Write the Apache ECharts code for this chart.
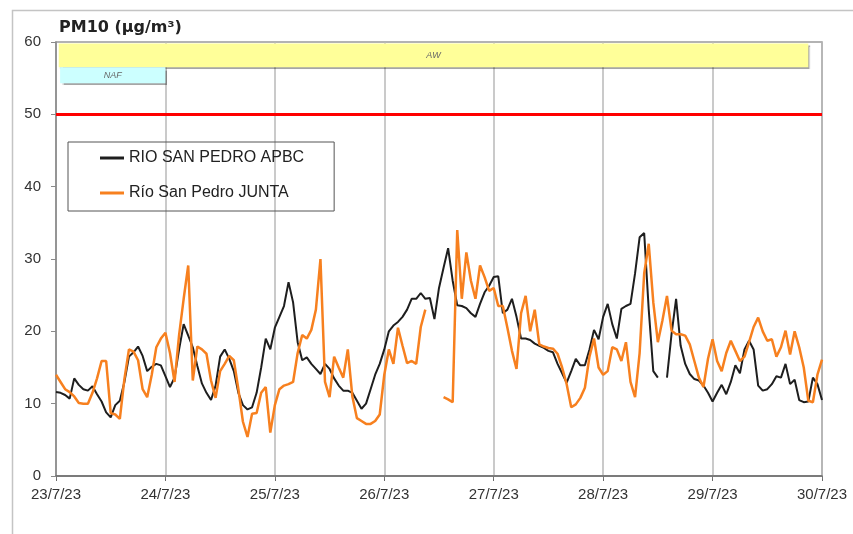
<!DOCTYPE html>
<html>
<head>
<meta charset="utf-8">
<script src="https://cdn.jsdelivr.net/npm/echarts@6/dist/echarts.min.js"></script>
<style>
html,body{margin:0;padding:0;background:#fff;}
#chart{width:853px;height:534px;}
</style>
</head>
<body>
<div id="chart"></div>
<script>
// hourly values, 23/7/23 00h .. 30/7/23 00h
const tickLabels = ['23/7/23','24/7/23','25/7/23','26/7/23','27/7/23','28/7/23','29/7/23','30/7/23'];
const seriesNames = ['RIO SAN PEDRO APBC', 'Río San Pedro JUNTA'];
const apbc = [
11.6,11.5,11.2,10.7,13.5,12.6,12.0,11.8,12.4,11.3,10.3,8.8,8.1,9.8,10.4,13.0,16.5,17.1,17.9,16.6,14.5,15.1,15.5,15.3,
13.8,12.3,13.6,17.5,21.0,19.4,17.8,15.2,12.8,11.5,10.5,12.5,16.5,17.5,16.2,14.5,11.5,9.8,9.2,9.5,11.5,15.0,19.0,17.5,
20.5,22.0,23.5,26.8,24.0,18.5,16.0,16.4,15.5,14.8,14.1,15.5,14.8,13.5,12.5,11.8,11.8,11.5,10.4,9.3,10.0,12.0,14.0,15.5,
17.5,20.0,20.8,21.3,22.0,23.0,24.5,24.5,25.3,24.5,24.6,21.7,26.0,28.8,31.5,27.0,23.6,23.5,23.2,22.5,22.0,23.8,25.4,26.3,
27.5,27.6,22.5,23.0,24.5,22.0,19.0,19.0,18.8,18.3,18.0,17.7,17.3,17.1,15.5,14.2,12.9,14.5,16.2,15.3,15.3,17.5,20.2,18.9,
22.0,23.8,21.0,19.0,23.1,23.5,23.8,28.0,33.0,33.6,23.0,14.5,13.6,null,13.6,19.6,24.5,18.0,15.5,14.1,13.4,13.2,12.5,11.5,
10.3,11.5,12.6,11.3,13.0,15.3,14.2,17.5,18.7,17.5,12.5,11.8,12.0,12.7,13.8,13.6,15.5,12.7,13.3,10.5,10.2,10.3,13.6,12.7,
10.5];
const junta = [
14.0,13.0,12.0,11.6,11.0,10.1,10.0,10.0,11.5,13.5,15.9,15.9,8.7,8.5,7.9,13.4,17.5,17.2,16.0,12.0,10.9,14.0,17.8,19.0,
19.8,17.0,13.0,19.5,24.5,29.1,13.2,17.9,17.5,16.9,13.2,10.8,14.5,15.5,16.6,16.0,12.0,7.5,5.4,8.6,8.7,11.5,12.3,6.0,
9.8,12.0,12.5,12.7,13.0,17.0,19.5,19.0,20.2,23.0,30.0,13.0,10.9,16.5,15.0,13.6,17.5,11.0,8.0,7.6,7.2,7.2,7.6,8.5,
14.0,17.5,15.5,20.5,18.0,15.6,15.9,15.5,20.6,23.0,null,null,null,10.9,10.6,10.2,34.0,24.5,30.9,27.0,24.5,29.1,27.5,25.6,
26.0,23.5,23.5,20.5,17.3,14.8,22.5,24.9,20.0,23.0,18.2,17.9,17.7,17.6,16.9,15.0,12.7,9.5,9.9,10.8,12.2,16.5,19.0,15.0,
14.0,14.5,17.8,17.5,15.9,18.5,13.0,10.9,17.0,28.0,32.1,24.0,18.5,21.5,24.9,20.1,19.6,19.6,19.4,18.2,15.9,13.6,12.3,16.2,
18.9,15.9,14.5,17.0,18.7,17.3,15.9,16.5,18.5,20.6,21.9,20.0,18.7,18.9,16.5,17.8,20.1,16.8,20.0,17.8,15.0,10.4,10.2,14.0,
16.1];
// episode bands: [label, startHour, endHour, topValue, bottomValue]
const bandAW = ['AW', 0.6, 165, 59.8, 56.5];
const bandNAF = ['NAF', 0.9, 24, 56.5, 54.3];
const limitValue = 50;

const toPairs = arr => arr.map((v, i) => [i, v]);
const band = (b, color) => [
  {name: b[0], xAxis: b[1], yAxis: b[3], itemStyle: {color: color}},
  {xAxis: b[2], yAxis: b[4]}
];

const chart = echarts.init(document.getElementById('chart'));
chart.setOption({
  animation: false,
  backgroundColor: '#fff',
  graphic: [{
    type: 'rect', left: 10, top: 8, silent: true, z: -10,
    shape: {width: 900, height: 600},
    style: {fill: 'none', stroke: '#c4c4c4', lineWidth: 1.5}
  }],
  title: {
    text: 'PM10 (µg/m³)', left: 59, top: 20, padding: 0,
    textStyle: {fontFamily: 'DejaVu Sans', fontWeight: 'bold', fontSize: 16, color: '#222'}
  },
  grid: {left: 56, right: 31, top: 42, bottom: 58, show: true, borderColor: '#9a9a9a', borderWidth: 1.5},
  legend: {
    orient: 'vertical', left: 68, top: 142,
    padding: [8, 30, 10, 32], itemGap: 19, itemWidth: 24, itemHeight: 3,
    borderColor: '#555', borderWidth: 1,
    icon: 'rect',
    textStyle: {fontFamily: 'Liberation Sans', fontSize: 16, color: '#222'},
    data: seriesNames
  },
  xAxis: [{
    type: 'value', min: 0, max: 168, interval: 24,
    axisLine: {show: true, onZero: false, lineStyle: {color: '#6a6a6a', width: 1.5}},
    axisTick: {show: true, length: 5, lineStyle: {color: '#6a6a6a'}},
    axisLabel: {margin: 11, fontFamily: 'Liberation Sans', fontSize: 15, color: '#333',
      showMinLabel: true, showMaxLabel: true,
      formatter: v => tickLabels[Math.round(v / 24)]},
    splitLine: {show: true, lineStyle: {color: '#b8b8b8', width: 1.5}}
  }, {
    type: 'value', min: 0, max: 168, interval: 24, position: 'top',
    axisLine: {show: false},
    axisTick: {show: true, inside: true, length: 3, lineStyle: {color: '#777'}},
    axisLabel: {show: false}, splitLine: {show: false}
  }],
  yAxis: {
    type: 'value', min: 0, max: 60, interval: 10,
    axisLine: {show: true, lineStyle: {color: '#8a8a8a', width: 1.5}},
    axisTick: {show: true, length: 5, lineStyle: {color: '#8a8a8a'}},
    axisLabel: {margin: 15, fontFamily: 'Liberation Sans', fontSize: 15, color: '#333'},
    splitLine: {show: false}
  },
  series: [{
    name: seriesNames[0], type: 'line', xAxisIndex: 0,
    data: toPairs(apbc), symbol: 'none', connectNulls: false,
    color: '#1e1e1e', lineStyle: {color: '#1e1e1e', width: 2},
    markArea: {
      silent: true,
      label: {show: true, position: 'inside', fontSize: 9, fontStyle: 'italic', color: '#666', fontFamily: 'Liberation Sans'},
      itemStyle: {shadowColor: 'rgba(0,0,0,0.35)', shadowOffsetX: 1.5, shadowOffsetY: 1.5, shadowBlur: 1},
      data: [band(bandAW, '#FFFF99'), band(bandNAF, '#CCFFFF')]
    },
    markLine: {
      silent: true, symbol: 'none', label: {show: false},
      lineStyle: {color: '#FF0000', width: 3, type: 'solid'},
      data: [{yAxis: limitValue}]
    }
  }, {
    name: seriesNames[1], type: 'line', xAxisIndex: 0,
    data: toPairs(junta), symbol: 'none', connectNulls: false,
    color: '#F7801F', lineStyle: {color: '#F7801F', width: 2.5}
  }]
});
</script>
</body>
</html>
